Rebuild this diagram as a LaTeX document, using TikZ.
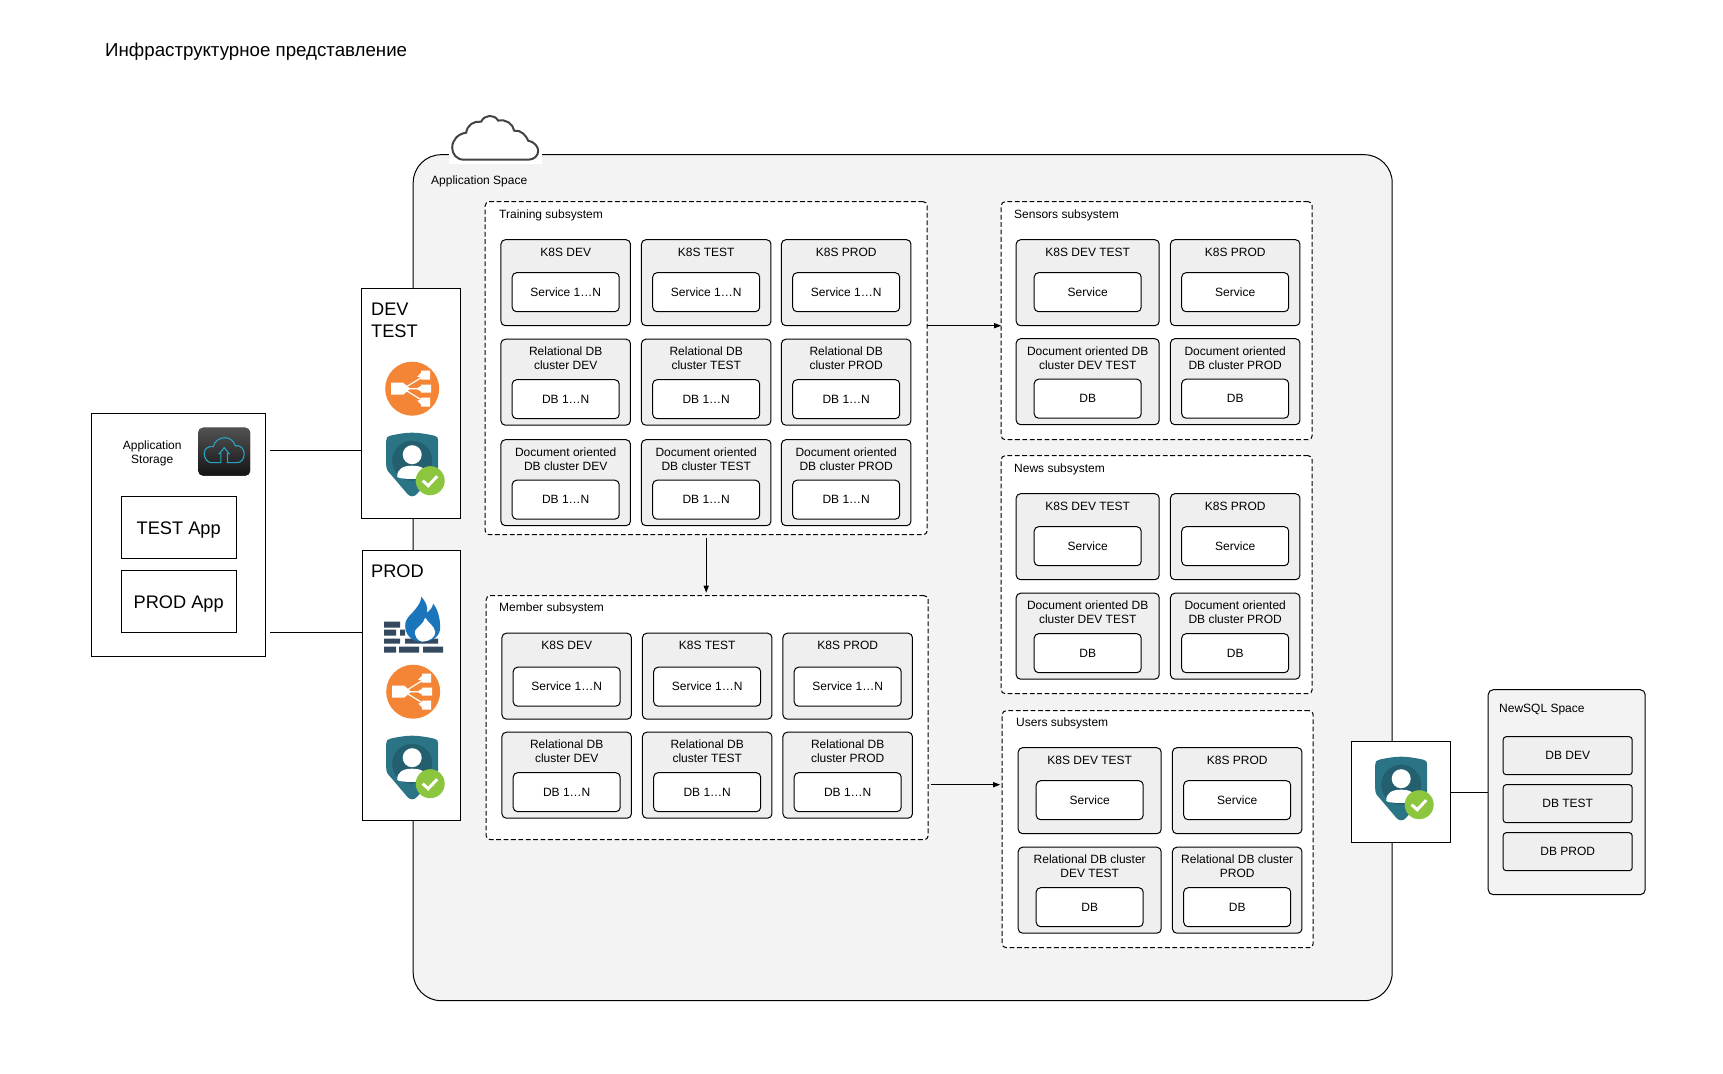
\documentclass[tikz,border=0pt]{standalone}
\usepackage{fontspec}
\usepackage{tikz}
\setmainfont{Liberation Sans}
\usetikzlibrary{arrows.meta, positioning, calc}
\definecolor{archspace}{HTML}{f3f3f3}
\definecolor{archpanel}{HTML}{efefef}
\definecolor{archcloud}{HTML}{434343}
\definecolor{archorange}{HTML}{f58536}
\definecolor{archteal}{HTML}{2a7485}
\definecolor{archdeep}{HTML}{245f70}
\definecolor{archgreen}{HTML}{8cc63f}
\definecolor{archbrick}{HTML}{34495e}
\definecolor{archflame}{HTML}{1b75bb}
\definecolor{archcyan}{HTML}{29a3c4}

\tikzset{
  pics/lbicon/.style={code={
    \fill[archorange] (0,0) circle (27);
    \draw[white, line width=.6pt] (-9,0) -- (13,-13.5) (-9,0) -- (13,0) (-9,0) -- (13,13.5);
    \fill[white] (-21,-6) rectangle (-9,6) (-9,-6) -- (-2,0) -- (-9,6) -- cycle (9,-18) rectangle (18,-9) (9,-4) rectangle (19,4) (9,9) rectangle (18,18);
    \fill[white] (9,-16) -- (5,-12) -- (9,-11) -- cycle (9,-3) -- (4,0) -- (9,3) -- cycle (9,11) -- (5,12) -- (9,16) -- cycle;
  }},
  pics/shieldicon/.style={code={
    \fill[archteal] (0,0) .. controls (-8,0) and (-18,2) .. (-22,3) .. controls (-25,3.5) and (-26,5) .. (-26,8) -- (-26,32) .. controls (-26,36) and (-25,38) .. (-22,41) -- (-5,61) .. controls (-2,64.5) and (2,64.5) .. (5,61) -- (22,41) .. controls (25,38) and (26,36) .. (26,32) -- (26,8) .. controls (26,5) and (25,3.5) .. (22,3) .. controls (18,2) and (8,0) .. (0,0) -- cycle;
    \fill[archdeep] (0,28) circle (20);
    \fill[white] (0,22) circle (9.5);
    \fill[white] (-15,44) .. controls (-15,36) and (-9,33) .. (0,33) .. controls (9,33) and (15,36) .. (15,44) .. controls (15,47) and (-15,47) .. (-15,44) -- cycle;
    \fill[archgreen] (18,48) circle (14.5);
    \draw[white, line width=1.5pt] (10.5,48) -- (16,53) -- (25,43.5);
  }},
  pics/firewallicon/.style={code={
    \fill[archbrick] (0,25) rectangle (16,31) (0,33) rectangle (12,39) (16,33) rectangle (21,39) (0,42) rectangle (16,47) (21,42) rectangle (54,47) (0,50) rectangle (12,56) (15,50) rectangle (35,56) (39,50) rectangle (59,56);
    \fill[archflame] (38,45) .. controls (27,45) and (21,38) .. (21,29) .. controls (21,21) and (27,18) .. (30,14) .. controls (34,9) and (37,5) .. (37,0) .. controls (41,4) and (44,10) .. (43,16) .. controls (46,14) and (48,11) .. (49,7) .. controls (54,13) and (56,23) .. (56,31) .. controls (56,39) and (49,45) .. (38,45) -- cycle;
    \fill[white] (38,45) .. controls (33,44) and (30,39) .. (31,34) .. controls (33,30) and (39,28) .. (41,21) .. controls (44,26) and (50,29) .. (51,35) .. controls (52,40) and (45,45) .. (38,45) -- cycle;
  }},
  pics/storageicon/.style={code={
    \fill[top color=black!68, bottom color=black!92, rounded corners=2.5pt] (-26,-24) rectangle (26,24);
    \draw[archcyan, line width=.55pt] (-3.3,11) -- (-13,11) .. controls (-17,11) and (-20,6) .. (-20,2) .. controls (-20,-3) and (-16,-6) .. (-11,-5) .. controls (-10,-11) and (-4,-14) .. (1,-14) .. controls (6,-14) and (10,-10) .. (11,-6) .. controls (16,-7) and (20,-3) .. (20,2) .. controls (20,7) and (17,11) .. (13,11) -- (3.3,11) -- (3.3,2) -- (5,2) -- (0,-4) -- (-5,2) -- (-3.3,2) -- cycle;
  }}
}

\begin{document}
\begin{tikzpicture}[
  x=.5pt, y=-.5pt,
  every node/.style={font=\fontsize{6}{7}\selectfont, inner sep=0pt, outer sep=0pt},
  connector/.style={draw, line width=.5pt},
  arrowline/.style={connector, -{Triangle[length=3.6pt,width=2.6pt]}},
  spacebox/.style={draw, line width=.5pt, fill=archspace, rounded corners=14pt},
  subsystem/.style={draw, line width=.5pt, fill=white, dash pattern=on 2.4pt off 1.3pt, rounded corners=2pt, minimum width=#1},
  cluster/.style={draw, line width=.5pt, fill=archpanel, rounded corners=2.2pt, minimum width=64.75pt, minimum height=43pt, label={[clustertitle]north:#1}},
  clusterwide/.style={cluster={#1}, minimum width=71.5pt},
  clustertitle/.style={anchor=north, align=center, yshift=-4pt},
  itembox/.style={draw, line width=.5pt, fill=white, rounded corners=2.2pt, minimum width=53.5pt, minimum height=19.5pt},
  dbitem/.style={draw, line width=.5pt, fill=archpanel, rounded corners=1.5pt, minimum width=64.5pt, minimum height=19pt},
  plainbox/.style={draw, line width=.5pt, fill=white},
  bigtext/.style={font=\fontsize{9.1}{11}\selectfont},
  appbox/.style={plainbox, bigtext, text depth=0pt, minimum width=57.5pt, minimum height=31pt},
  caption/.style={anchor=west, yshift=-.5pt}
]
\useasboundingbox (-.2,-.7) rectangle (1722.8,1073.3);

\node[font=\fontsize{9.35}{11}\selectfont, caption] (title) at (105,49.5) {Инфраструктурное представление};

\node[spacebox, minimum width=489.5pt, minimum height=423pt] (appspace) at (902.5,577) {};
\fill[white] (449,150) rectangle (542,163);
\draw[archcloud, line width=1pt, fill=white] (464,159) .. controls (456,159) and (452,153) .. (452,147) .. controls (452,139) and (458,133) .. (466,132) .. controls (467,124) and (474,120) .. (481,121) .. controls (484,114) and (494,113) .. (498,120) .. controls (505,118) and (513,123) .. (514,130) .. controls (521,129) and (526,135) .. (528,140) .. controls (534,141) and (538,146) .. (538,150) .. controls (538,155) and (534,159) .. (528,159) -- cycle;
\node[caption] (appspace-cap) at (431,180) {Application Space};

\node[subsystem=221pt, minimum height=166.5pt] (training) at (706,367.5) {};
\node[caption] (training-cap) at (499,214) {Training subsystem};
\node[cluster={K8S DEV}] (tr-k8s-dev) at (565.5,282) {};
\node[itembox, above=7pt of tr-k8s-dev.south] (tr-k8s-dev-svc) {Service 1…N};
\node[cluster={K8S TEST}] (tr-k8s-test) at (706,282) {};
\node[itembox, above=7pt of tr-k8s-test.south] (tr-k8s-test-svc) {Service 1…N};
\node[cluster={K8S PROD}] (tr-k8s-prod) at (846,282) {};
\node[itembox, above=7pt of tr-k8s-prod.south] (tr-k8s-prod-svc) {Service 1…N};
\node[cluster={Relational DB\\cluster DEV}] (tr-rel-dev) at (565.5,381.5) {};
\node[itembox, above=3.25pt of tr-rel-dev.south] (tr-rel-dev-db) {DB 1…N};
\node[cluster={Relational DB\\cluster TEST}] (tr-rel-test) at (706,381.5) {};
\node[itembox, above=3.25pt of tr-rel-test.south] (tr-rel-test-db) {DB 1…N};
\node[cluster={Relational DB\\cluster PROD}] (tr-rel-prod) at (846,381.5) {};
\node[itembox, above=3.25pt of tr-rel-prod.south] (tr-rel-prod-db) {DB 1…N};
\node[cluster={Document oriented\\DB cluster DEV}] (tr-doc-dev) at (565.5,482) {};
\node[itembox, above=3.25pt of tr-doc-dev.south] (tr-doc-dev-db) {DB 1…N};
\node[cluster={Document oriented\\DB cluster TEST}] (tr-doc-test) at (706,482) {};
\node[itembox, above=3.25pt of tr-doc-test.south] (tr-doc-test-db) {DB 1…N};
\node[cluster={Document oriented\\DB cluster PROD}] (tr-doc-prod) at (846,482) {};
\node[itembox, above=3.25pt of tr-doc-prod.south] (tr-doc-prod-db) {DB 1…N};

\node[subsystem=221pt, minimum height=122pt] (member) at (707,717) {};
\node[caption] (member-cap) at (499,607) {Member subsystem};
\node[cluster={K8S DEV}] (mb-k8s-dev) at (566.5,675.5) {};
\node[itembox, above=6.5pt of mb-k8s-dev.south] (mb-k8s-dev-svc) {Service 1…N};
\node[cluster={K8S TEST}] (mb-k8s-test) at (707,675.5) {};
\node[itembox, above=6.5pt of mb-k8s-test.south] (mb-k8s-test-svc) {Service 1…N};
\node[cluster={K8S PROD}] (mb-k8s-prod) at (847.5,675.5) {};
\node[itembox, above=6.5pt of mb-k8s-prod.south] (mb-k8s-prod-svc) {Service 1…N};
\node[cluster={Relational DB\\cluster DEV}] (mb-rel-dev) at (566.5,774.5) {};
\node[itembox, above=3.25pt of mb-rel-dev.south] (mb-rel-dev-db) {DB 1…N};
\node[cluster={Relational DB\\cluster TEST}] (mb-rel-test) at (707,774.5) {};
\node[itembox, above=3.25pt of mb-rel-test.south] (mb-rel-test-db) {DB 1…N};
\node[cluster={Relational DB\\cluster PROD}] (mb-rel-prod) at (847.5,774.5) {};
\node[itembox, above=3.25pt of mb-rel-prod.south] (mb-rel-prod-db) {DB 1…N};

\node[subsystem=155.5pt, minimum height=119pt] (sensors) at (1156.5,320) {};
\node[caption] (sensors-cap) at (1014,214) {Sensors subsystem};
\node[clusterwide={K8S DEV TEST}] (sn-k8s-devtest) at (1087.5,282) {};
\node[itembox, above=7pt of sn-k8s-devtest.south] (sn-k8s-devtest-svc) {Service};
\node[cluster={K8S PROD}] (sn-k8s-prod) at (1235,282) {};
\node[itembox, above=7pt of sn-k8s-prod.south] (sn-k8s-prod-svc) {Service};
\node[clusterwide={Document oriented DB\\cluster DEV TEST}] (sn-doc-devtest) at (1087.5,381) {};
\node[itembox, above=3.25pt of sn-doc-devtest.south] (sn-doc-devtest-db) {DB};
\node[cluster={Document oriented\\DB cluster PROD}] (sn-doc-prod) at (1235,381) {};
\node[itembox, above=3.25pt of sn-doc-prod.south] (sn-doc-prod-db) {DB};

\node[subsystem=155.5pt, minimum height=119pt] (news) at (1156.5,574) {};
\node[caption] (news-cap) at (1014,468) {News subsystem};
\node[clusterwide={K8S DEV TEST}] (nw-k8s-devtest) at (1087.5,536) {};
\node[itembox, above=7pt of nw-k8s-devtest.south] (nw-k8s-devtest-svc) {Service};
\node[cluster={K8S PROD}] (nw-k8s-prod) at (1235,536) {};
\node[itembox, above=7pt of nw-k8s-prod.south] (nw-k8s-prod-svc) {Service};
\node[clusterwide={Document oriented DB\\cluster DEV TEST}] (nw-doc-devtest) at (1087.5,635.5) {};
\node[itembox, above=3.25pt of nw-doc-devtest.south] (nw-doc-devtest-db) {DB};
\node[cluster={Document oriented\\DB cluster PROD}] (nw-doc-prod) at (1235,635.5) {};
\node[itembox, above=3.25pt of nw-doc-prod.south] (nw-doc-prod-db) {DB};

\node[subsystem=155.5pt, minimum height=118.5pt] (users) at (1157.5,828.5) {};
\node[caption] (users-cap) at (1016,722) {Users subsystem};
\node[clusterwide={K8S DEV TEST}] (us-k8s-devtest) at (1089.5,790) {};
\node[itembox, above=7pt of us-k8s-devtest.south] (us-k8s-devtest-svc) {Service};
\node[cluster={K8S PROD}] (us-k8s-prod) at (1237,790) {};
\node[itembox, above=7pt of us-k8s-prod.south] (us-k8s-prod-svc) {Service};
\node[clusterwide={Relational DB cluster\\DEV TEST}] (us-rel-devtest) at (1089.5,889.5) {};
\node[itembox, above=3.25pt of us-rel-devtest.south] (us-rel-devtest-db) {DB};
\node[cluster={Relational DB cluster\\PROD}] (us-rel-prod) at (1237,889.5) {};
\node[itembox, above=3.25pt of us-rel-prod.south] (us-rel-prod-db) {DB};

\coordinate (usersin) at (0,784);
\draw[arrowline] (training.east |- tr-k8s-prod.south) -- (sensors.west |- tr-k8s-prod.south);
\draw[arrowline, shorten <=1.5pt, shorten >=1.5pt] (training.south) -- (training.south |- member.north);
\draw[arrowline, shorten <=1.5pt, shorten >=1pt] (member.east |- usersin) -- (users.west |- usersin);

\node[plainbox, minimum width=87pt, minimum height=121.5pt] (storage) at (178,534.5) {};
\node[align=center] (storage-cap) at (152,452.5) {Application\\Storage};
\pic at (224,451) {storageicon};
\node[appbox] (testapp) at (178.5,527) {TEST App};
\node[appbox] (prodapp) at (178.5,601) {PROD App};

\node[plainbox, minimum width=49.5pt, minimum height=115pt] (devtest) at (410.5,403) {};
\node[bigtext, caption, align=left] (devtest-cap) at (371,319) {DEV\\TEST};
\pic at (412,388) {lbicon};
\pic at (412,432) {shieldicon};

\node[plainbox, minimum width=49pt, minimum height=135pt] (prod) at (411,685) {};
\node[bigtext, caption] (prod-cap) at (371,570) {PROD};
\pic at (384,596) {firewallicon};
\pic at (413,691) {lbicon};
\pic at (412,735) {shieldicon};

\coordinate (storagedev) at (270,450);
\coordinate (storageprod) at (270,631.5);
\draw[connector] (storagedev) -- (storagedev -| devtest.west);
\draw[connector] (storageprod) -- (storageprod -| prod.west);

\node[plainbox, minimum width=49.5pt, minimum height=50.5pt] (gateway) at (1400.5,791.5) {};
\pic at (1401,756) {shieldicon};

\node[draw, line width=.5pt, fill=archspace, rounded corners=2.5pt, minimum width=78.5pt, minimum height=102.5pt] (newsql) at (1566.5,791.5) {};
\node[caption] (newsql-cap) at (1499,708) {NewSQL Space};
\node[dbitem] (newsql-dev) at (1567.5,755) {DB DEV};
\node[dbitem] (newsql-test) at (1567.5,803) {DB TEST};
\node[dbitem] (newsql-prod) at (1567.5,851) {DB PROD};
\draw[connector] (gateway) -- (newsql);
\end{tikzpicture}
\end{document}
